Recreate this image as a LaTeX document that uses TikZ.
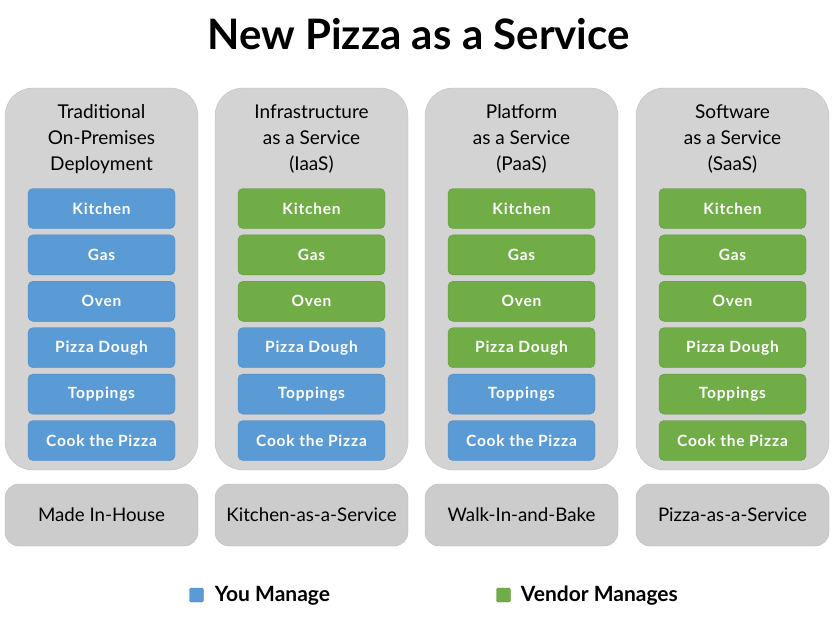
\documentclass[tikz,border=0pt]{standalone}
\usepackage{fontspec}
\setmainfont{Lato}
\usepackage{xcolor}
\usetikzlibrary{positioning}

\definecolor{youblue}{HTML}{5B9BD5}
\definecolor{youblueline}{HTML}{4A85BD}
\definecolor{vendgreen}{HTML}{70AD47}
\definecolor{vendgreenline}{HTML}{5E963A}
\definecolor{colgray}{HTML}{D3D3D3}
\definecolor{colline}{HTML}{BDBDBD}
\definecolor{footgray}{HTML}{CCCCCC}

\begin{document}
\begin{tikzpicture}[
  x=1pt, y=-1pt,
  node distance=6pt,
  column/.style={draw=colline, fill=colgray, rounded corners=28pt,
                 minimum width=193pt, minimum height=382pt, inner sep=0pt},
  head/.style={align=center, font=\fontsize{19}{26}\selectfont, inner sep=0pt},
  layer/.style={rounded corners=5pt, minimum width=147pt, minimum height=40pt,
                inner sep=0pt, text=white,
                font=\fontsize{15.5}{18}\selectfont\bfseries\addfontfeatures{LetterSpace=5}},
  you/.style={layer, draw=youblueline, fill=youblue},
  vendor/.style={layer, draw=vendgreenline, fill=vendgreen},
  foot/.style={draw=footgray!90!black, fill=footgray, rounded corners=14pt,
               minimum width=193pt, minimum height=62pt, inner sep=0pt,
               font=\fontsize{18.7}{22}\selectfont},
  key/.style={minimum size=14pt, inner sep=0pt, rounded corners=1.5pt},
  keytext/.style={inner sep=0pt, font=\fontsize{21}{24}\selectfont\bfseries}]
\useasboundingbox (0,0) rectangle (837,630);

\node[font=\fontsize{42}{50}\selectfont\bfseries] (title) at (418.5,34) {New Pizza as a Service};

% columns
\node[column] (onprem) at (101.5,279) {};
\node[column] (iaas) at (311.5,279) {};
\node[column] (paas) at (521.5,279) {};
\node[column] (saas) at (732.5,279) {};

\node[head] (onpremhead) at (101.5,139) {Traditional\\On-Premises\\Deployment};
\node[head] (iaashead) at (311.5,139) {Infrastructure\\as a Service\\(IaaS)};
\node[head] (paashead) at (521.5,139) {Platform\\as a Service\\(PaaS)};
\node[head] (saashead) at (732.5,139) {Software\\as a Service\\(SaaS)};

% on-premises
\node[you] (onprem1) at (101.5,208.5) {Kitchen};
\node[you, below=of onprem1] (onprem2) {Gas};
\node[you, below=of onprem2] (onprem3) {Oven};
\node[you, below=of onprem3] (onprem4) {Pizza Dough};
\node[you, below=of onprem4] (onprem5) {Toppings};
\node[you, below=of onprem5] (onprem6) {Cook the Pizza};

% iaas
\node[vendor] (iaas1) at (311.5,208.5) {Kitchen};
\node[vendor, below=of iaas1] (iaas2) {Gas};
\node[vendor, below=of iaas2] (iaas3) {Oven};
\node[you, below=of iaas3] (iaas4) {Pizza Dough};
\node[you, below=of iaas4] (iaas5) {Toppings};
\node[you, below=of iaas5] (iaas6) {Cook the Pizza};

% paas
\node[vendor] (paas1) at (521.5,208.5) {Kitchen};
\node[vendor, below=of paas1] (paas2) {Gas};
\node[vendor, below=of paas2] (paas3) {Oven};
\node[vendor, below=of paas3] (paas4) {Pizza Dough};
\node[you, below=of paas4] (paas5) {Toppings};
\node[you, below=of paas5] (paas6) {Cook the Pizza};

% saas
\node[vendor] (saas1) at (732.5,208.5) {Kitchen};
\node[vendor, below=of saas1] (saas2) {Gas};
\node[vendor, below=of saas2] (saas3) {Oven};
\node[vendor, below=of saas3] (saas4) {Pizza Dough};
\node[vendor, below=of saas4] (saas5) {Toppings};
\node[vendor, below=of saas5] (saas6) {Cook the Pizza};

% pizza analogy
\node[foot] (onpremfoot) at (101.5,515) {Made In-House};
\node[foot] (iaasfoot) at (311.5,515) {Kitchen-as-a-Service};
\node[foot] (paasfoot) at (521.5,515) {Walk-In-and-Bake};
\node[foot] (saasfoot) at (732.5,515) {Pizza-as-a-Service};

% legend
\node[key, fill=youblue, draw=youblueline] (youkey) at (196.5,595) {};
\node[keytext, right=11pt of youkey, yshift=-1pt] (youtext) {You Manage};
\node[key, fill=vendgreen, draw=vendgreenline] (vendkey) at (503.5,595) {};
\node[keytext, right=10pt of vendkey, yshift=-1pt] (vendtext) {Vendor Manages};
\end{tikzpicture}
\end{document}
